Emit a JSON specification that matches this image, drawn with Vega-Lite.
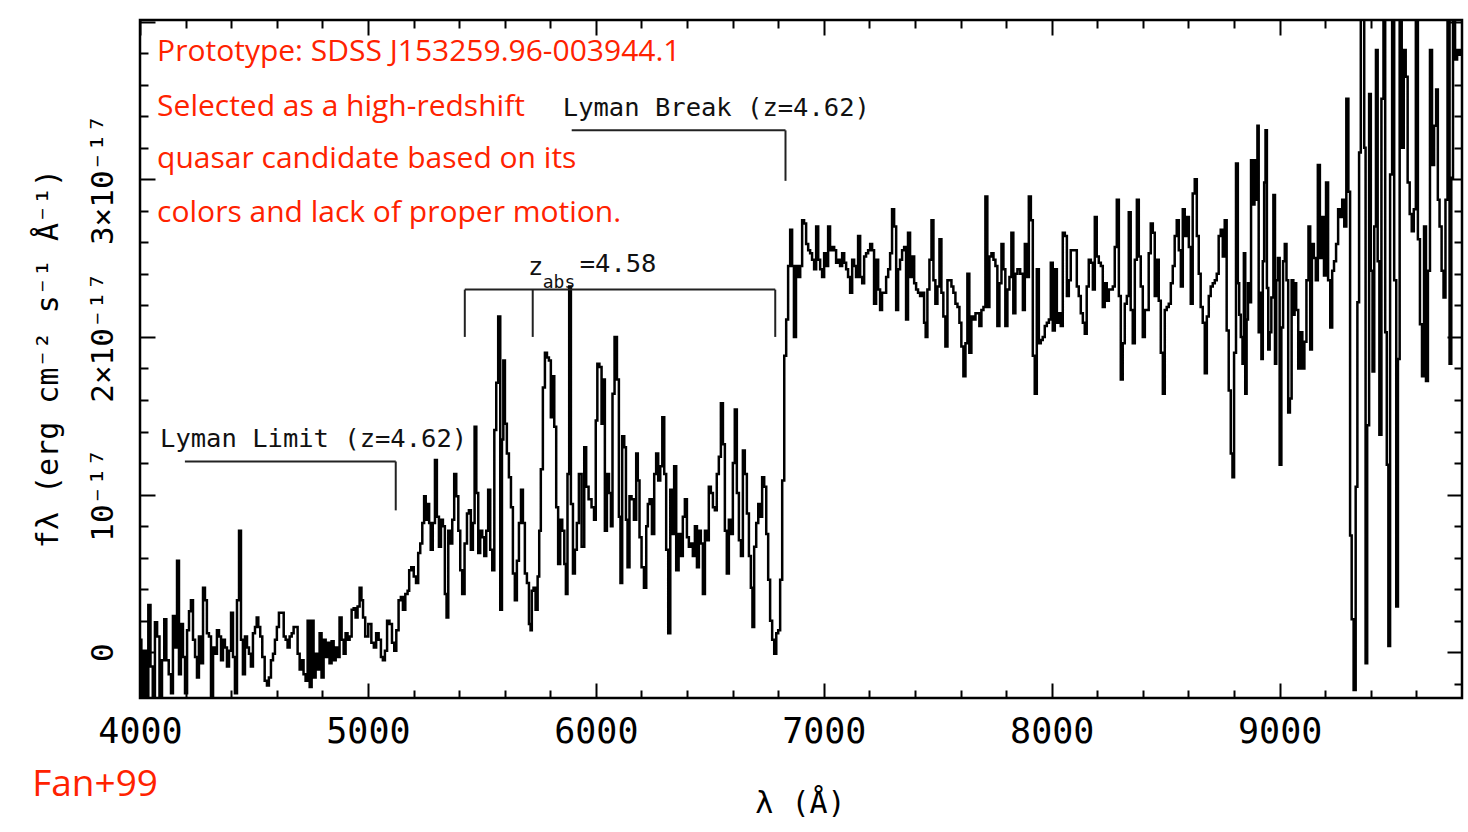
{
 "$schema": "https://vega.github.io/schema/vega-lite/v6.json",
 "width": 1322, "height": 678,
 "autosize": {"type": "none"},
 "padding": {"left": 140, "top": 20, "right": 6, "bottom": 134},
 "background": "white",
 "config": {"view": {"stroke": "black", "strokeWidth": 2.5}},
 "datasets": {
  "spec": [
{"w":4000,"f":0.08},{"w":4012,"f":-0.28},{"w":4022,"f":0.01},{"w":4032,"f":-0.30},{"w":4041,"f":0.30},{"w":4051,"f":-0.09},{"w":4061,"f":-0.30},{"w":4070,"f":0.19},{"w":4080,"f":0.10},{"w":4091,"f":-0.28},{"w":4102,"f":-0.05},{"w":4111,"f":0.21},{"w":4120,"f":-0.05},{"w":4132,"f":-0.14},{"w":4140,"f":-0.26},{"w":4149,"f":0.23},{"w":4158,"f":0.03},{"w":4167,"f":0.58},{"w":4175,"f":-0.14},{"w":4184,"f":0.18},{"w":4193,"f":-0.03},{"w":4202,"f":-0.26},{"w":4211,"f":0.14},{"w":4219,"f":0.26},{"w":4228,"f":0.33},{"w":4237,"f":0.08},{"w":4246,"f":-0.03},{"w":4254,"f":-0.16},{"w":4263,"f":0.10},{"w":4272,"f":-0.07},{"w":4281,"f":0.41},{"w":4289,"f":0.33},{"w":4298,"f":0.12},{"w":4307,"f":0.10},{"w":4316,"f":-0.28},{"w":4325,"f":0.03},{"w":4333,"f":-0.01},{"w":4342,"f":0.14},{"w":4351,"f":0.10},{"w":4360,"f":-0.05},{"w":4368,"f":0.08},{"w":4377,"f":0.03},{"w":4386,"f":-0.09},{"w":4395,"f":0.01},{"w":4404,"f":0.25},{"w":4412,"f":-0.03},{"w":4421,"f":-0.26},{"w":4430,"f":0.33},{"w":4439,"f":0.77},{"w":4447,"f":0.08},{"w":4456,"f":-0.14},{"w":4465,"f":0.10},{"w":4474,"f":0.03},{"w":4482,"f":-0.01},{"w":4491,"f":-0.09},{"w":4500,"f":0.12},{"w":4509,"f":0.16},{"w":4515,"f":0.22},{"w":4523,"f":0.16},{"w":4532,"f":0.10},{"w":4541,"f":-0.03},{"w":4553,"f":-0.18},{"w":4561,"f":-0.21},{"w":4570,"f":-0.16},{"w":4579,"f":-0.05},{"w":4588,"f":-0.01},{"w":4596,"f":0.08},{"w":4605,"f":0.16},{"w":4614,"f":0.25},{"w":4626,"f":0.25},{"w":4635,"f":0.10},{"w":4643,"f":0.08},{"w":4652,"f":0.03},{"w":4661,"f":0.10},{"w":4670,"f":0.12},{"w":4678,"f":0.16},{"w":4687,"f":0.16},{"w":4696,"f":-0.01},{"w":4705,"f":-0.11},{"w":4713,"f":-0.05},{"w":4722,"f":-0.14},{"w":4731,"f":-0.18},{"w":4740,"f":0.20},{"w":4749,"f":-0.22},{"w":4757,"f":0.20},{"w":4766,"f":-0.16},{"w":4775,"f":-0.01},{"w":4784,"f":-0.11},{"w":4792,"f":0.12},{"w":4801,"f":-0.16},{"w":4810,"f":0.08},{"w":4819,"f":-0.03},{"w":4827,"f":0.06},{"w":4836,"f":-0.07},{"w":4845,"f":0.07},{"w":4854,"f":-0.05},{"w":4863,"f":0.03},{"w":4871,"f":-0.03},{"w":4880,"f":0.22},{"w":4889,"f":0.08},{"w":4898,"f":-0.01},{"w":4906,"f":0.12},{"w":4915,"f":0.08},{"w":4924,"f":0.10},{"w":4933,"f":0.27},{"w":4942,"f":0.28},{"w":4950,"f":0.22},{"w":4959,"f":0.29},{"w":4968,"f":0.41},
{"w":4975,"f":0.33},{"w":4982,"f":0.22},{"w":4994,"f":0.10},{"w":5009,"f":0.18},{"w":5021,"f":0.06},{"w":5031,"f":0.03},{"w":5041,"f":0.12},{"w":5053,"f":0.08},{"w":5061,"f":-0.03},{"w":5070,"f":-0.05},{"w":5079,"f":0.01},{"w":5089,"f":0.20},{"w":5100,"f":0.18},{"w":5111,"f":0.06},{"w":5120,"f":0.01},{"w":5129,"f":0.14},{"w":5140,"f":0.33},{"w":5149,"f":0.35},{"w":5158,"f":0.27},{"w":5170,"f":0.37},{"w":5178,"f":0.39},{"w":5184,"f":0.52},{"w":5196,"f":0.54},{"w":5206,"f":0.48},{"w":5216,"f":0.44},{"w":5225,"f":0.63},{"w":5234,"f":0.69},{"w":5243,"f":0.82},{"w":5250,"f":0.99},{"w":5257,"f":0.84},{"w":5265,"f":0.94},{"w":5272,"f":0.82},{"w":5279,"f":0.65},{"w":5290,"f":0.82},{"w":5298,"f":1.22},{"w":5307,"f":0.86},{"w":5316,"f":0.67},{"w":5325,"f":0.84},{"w":5333,"f":0.80},{"w":5342,"f":0.37},{"w":5348,"f":0.22},{"w":5357,"f":0.77},{"w":5366,"f":0.69},{"w":5374,"f":0.84},{"w":5383,"f":1.13},{"w":5392,"f":0.99},{"w":5401,"f":0.77},{"w":5409,"f":0.52},{"w":5418,"f":0.37},{"w":5430,"f":0.69},{"w":5439,"f":0.88},{"w":5447,"f":0.90},{"w":5456,"f":0.65},{"w":5465,"f":0.82},{"w":5471,"f":1.43},{"w":5480,"f":1.01},{"w":5488,"f":0.63},{"w":5497,"f":0.77},{"w":5506,"f":0.73},{"w":5515,"f":0.61},{"w":5523,"f":0.77},{"w":5532,"f":1.03},{"w":5541,"f":0.65},{"w":5550,"f":0.52},{"w":5559,"f":1.41},{"w":5567,"f":1.71},{"w":5576,"f":2.13},{"w":5585,"f":0.27},{"w":5591,"f":1.35},{"w":5597,"f":1.85},{"w":5605,"f":1.45},{"w":5614,"f":1.26},{"w":5623,"f":1.11},{"w":5632,"f":0.92},{"w":5640,"f":0.50},{"w":5649,"f":0.33},{"w":5658,"f":0.58},{"w":5667,"f":0.82},{"w":5676,"f":1.03},{"w":5684,"f":0.82},{"w":5693,"f":0.50},{"w":5702,"f":0.44},{"w":5711,"f":0.18},{"w":5716,"f":0.14},{"w":5722,"f":0.39},{"w":5731,"f":0.41},{"w":5740,"f":0.27},{"w":5749,"f":0.48},{"w":5754,"f":0.77},{"w":5763,"f":1.16},{"w":5772,"f":1.68},{"w":5781,"f":1.90},{"w":5790,"f":1.87},{"w":5798,"f":1.85},{"w":5807,"f":1.49},{"w":5813,"f":1.75},{"w":5822,"f":1.43},{"w":5830,"f":0.92},{"w":5839,"f":0.56},{"w":5848,"f":0.84},{"w":5857,"f":0.77},{"w":5866,"f":0.56},{"w":5871,"f":0.37},{"w":5880,"f":1.13},{"w":5886,"f":2.32},{"w":5895,"f":0.94},{"w":5904,"f":0.50},{"w":5912,"f":0.65},{"w":5921,"f":0.82},
{"w":5930,"f":1.13},{"w":5945,"f":0.67},{"w":5953,"f":1.30},{"w":5962,"f":1.05},{"w":5974,"f":0.97},{"w":5988,"f":0.92},{"w":5996,"f":0.84},{"w":6003,"f":1.47},{"w":6010,"f":1.83},{"w":6021,"f":1.81},{"w":6029,"f":1.45},{"w":6035,"f":1.73},{"w":6044,"f":0.77},{"w":6053,"f":1.13},{"w":6062,"f":1.01},{"w":6070,"f":0.80},{"w":6076,"f":1.64},{"w":6088,"f":2.00},{"w":6097,"f":1.73},{"w":6105,"f":0.86},{"w":6111,"f":0.44},{"w":6120,"f":1.37},{"w":6129,"f":1.30},{"w":6135,"f":0.84},{"w":6143,"f":0.54},{"w":6152,"f":0.99},{"w":6161,"f":0.97},{"w":6173,"f":0.84},{"w":6181,"f":1.26},{"w":6187,"f":1.09},{"w":6196,"f":0.73},{"w":6205,"f":0.54},{"w":6217,"f":0.41},{"w":6225,"f":0.80},{"w":6231,"f":0.94},{"w":6240,"f":0.97},{"w":6252,"f":0.75},{"w":6260,"f":1.13},{"w":6269,"f":1.26},{"w":6278,"f":1.09},{"w":6287,"f":1.18},{"w":6296,"f":1.49},{"w":6304,"f":1.13},{"w":6313,"f":0.65},{"w":6322,"f":0.12},{"w":6331,"f":1.03},{"w":6339,"f":0.75},{"w":6348,"f":1.18},{"w":6357,"f":0.52},{"w":6369,"f":0.75},{"w":6377,"f":0.61},{"w":6386,"f":0.86},{"w":6395,"f":0.97},{"w":6404,"f":0.73},{"w":6412,"f":0.67},{"w":6421,"f":0.69},{"w":6430,"f":0.61},{"w":6439,"f":0.80},{"w":6448,"f":0.54},{"w":6456,"f":0.77},{"w":6465,"f":0.69},{"w":6474,"f":0.37},{"w":6483,"f":0.77},{"w":6491,"f":0.71},{"w":6500,"f":1.05},{"w":6509,"f":1.01},{"w":6518,"f":0.92},{"w":6526,"f":0.90},{"w":6535,"f":1.13},{"w":6544,"f":1.24},{"w":6553,"f":1.58},{"w":6562,"f":1.32},{"w":6570,"f":0.77},{"w":6579,"f":0.50},{"w":6588,"f":0.84},{"w":6597,"f":0.75},{"w":6605,"f":1.20},{"w":6614,"f":1.54},{"w":6623,"f":1.01},{"w":6632,"f":0.71},{"w":6641,"f":0.61},{"w":6649,"f":1.28},{"w":6658,"f":1.13},{"w":6667,"f":0.88},{"w":6676,"f":0.61},{"w":6684,"f":0.41},{"w":6690,"f":0.16},{"w":6699,"f":0.67},{"w":6708,"f":0.82},{"w":6717,"f":0.94},{"w":6725,"f":0.86},{"w":6734,"f":1.11},{"w":6743,"f":1.05},{"w":6752,"f":0.75},{"w":6760,"f":0.46},{"w":6769,"f":0.20},{"w":6778,"f":0.08},{"w":6787,"f":-0.01},{"w":6796,"f":0.12},{"w":6804,"f":0.14},{"w":6813,"f":0.46},{"w":6822,"f":1.09},{"w":6831,"f":1.88},{"w":6839,"f":2.11},{"w":6848,"f":2.45},{"w":6857,"f":2.68},
{"w":6865,"f":2.45},{"w":6873,"f":2.00},{"w":6883,"f":2.45},{"w":6892,"f":2.38},{"w":6901,"f":2.45},{"w":6909,"f":2.74},{"w":6918,"f":2.72},{"w":6927,"f":2.59},{"w":6936,"f":2.55},{"w":6944,"f":2.53},{"w":6953,"f":2.49},{"w":6962,"f":2.43},{"w":6971,"f":2.70},{"w":6980,"f":2.49},{"w":6988,"f":2.43},{"w":6997,"f":2.38},{"w":7006,"f":2.53},{"w":7015,"f":2.45},{"w":7023,"f":2.70},{"w":7032,"f":2.55},{"w":7041,"f":2.57},{"w":7050,"f":2.55},{"w":7058,"f":2.47},{"w":7067,"f":2.49},{"w":7076,"f":2.45},{"w":7085,"f":2.53},{"w":7094,"f":2.47},{"w":7102,"f":2.43},{"w":7111,"f":2.38},{"w":7120,"f":2.28},{"w":7129,"f":2.49},{"w":7137,"f":2.45},{"w":7146,"f":2.38},{"w":7155,"f":2.64},{"w":7164,"f":2.38},{"w":7173,"f":2.34},{"w":7181,"f":2.51},{"w":7190,"f":2.53},{"w":7199,"f":2.55},{"w":7208,"f":2.59},{"w":7216,"f":2.55},{"w":7225,"f":2.21},{"w":7234,"f":2.49},{"w":7243,"f":2.30},{"w":7251,"f":2.17},{"w":7260,"f":2.28},{"w":7269,"f":2.28},{"w":7278,"f":2.38},{"w":7287,"f":2.43},{"w":7295,"f":2.53},{"w":7304,"f":2.81},{"w":7313,"f":2.70},{"w":7322,"f":2.17},{"w":7330,"f":2.43},{"w":7339,"f":2.49},{"w":7348,"f":2.55},{"w":7357,"f":2.57},{"w":7365,"f":2.11},{"w":7374,"f":2.66},{"w":7383,"f":2.38},{"w":7392,"f":2.51},{"w":7401,"f":2.34},{"w":7409,"f":2.30},{"w":7418,"f":2.28},{"w":7427,"f":2.26},{"w":7436,"f":2.28},{"w":7444,"f":2.09},{"w":7450,"f":2.00},{"w":7459,"f":2.30},{"w":7468,"f":2.49},{"w":7477,"f":2.74},{"w":7485,"f":2.36},{"w":7494,"f":2.21},{"w":7503,"f":2.32},{"w":7512,"f":2.62},{"w":7520,"f":2.28},{"w":7529,"f":2.13},{"w":7538,"f":1.94},{"w":7547,"f":2.36},{"w":7556,"f":2.36},{"w":7564,"f":2.32},{"w":7573,"f":2.28},{"w":7582,"f":2.21},{"w":7591,"f":2.19},{"w":7599,"f":2.09},{"w":7608,"f":1.94},{"w":7617,"f":1.75},{"w":7626,"f":1.96},{"w":7634,"f":2.40},{"w":7643,"f":1.90},{"w":7652,"f":2.13},{"w":7661,"f":2.11},{"w":7670,"f":2.15},{"w":7678,"f":2.15},{"w":7687,"f":2.07},{"w":7696,"f":2.17},{"w":7705,"f":2.19},{"w":7713,"f":2.89},{"w":7722,"f":2.19},{"w":7731,"f":2.51},{"w":7740,"f":2.53},{"w":7749,"f":2.49},{"w":7757,"f":2.45},{"w":7766,"f":2.07},{"w":7775,"f":2.34},{"w":7784,"f":2.59},{"w":7792,"f":2.43},{"w":7801,"f":2.07},{"w":7810,"f":2.30},{"w":7819,"f":2.38},{"w":7827,"f":2.66},{"w":7836,"f":2.15},{"w":7845,"f":2.40},{"w":7854,"f":2.43},
{"w":7869,"f":2.40},{"w":7878,"f":2.17},{"w":7886,"f":2.59},{"w":7895,"f":2.38},{"w":7904,"f":2.89},{"w":7913,"f":2.74},{"w":7921,"f":1.88},{"w":7930,"f":1.64},{"w":7939,"f":2.43},{"w":7948,"f":1.96},{"w":7956,"f":1.98},{"w":7965,"f":2.00},{"w":7974,"f":2.07},{"w":7983,"f":2.09},{"w":7992,"f":2.11},{"w":8000,"f":2.47},{"w":8009,"f":2.04},{"w":8018,"f":2.43},{"w":8027,"f":2.09},{"w":8035,"f":2.15},{"w":8044,"f":2.07},{"w":8053,"f":2.66},{"w":8062,"f":2.64},{"w":8071,"f":2.26},{"w":8079,"f":2.36},{"w":8088,"f":2.55},{"w":8097,"f":2.55},{"w":8106,"f":2.55},{"w":8114,"f":2.32},{"w":8123,"f":2.26},{"w":8132,"f":2.15},{"w":8141,"f":2.09},{"w":8149,"f":2.02},{"w":8158,"f":2.32},{"w":8167,"f":2.49},{"w":8176,"f":2.47},{"w":8185,"f":2.30},{"w":8193,"f":2.76},{"w":8202,"f":2.51},{"w":8211,"f":2.47},{"w":8220,"f":2.45},{"w":8228,"f":2.19},{"w":8237,"f":2.34},{"w":8246,"f":2.23},{"w":8255,"f":2.30},{"w":8264,"f":2.30},{"w":8272,"f":2.32},{"w":8281,"f":2.57},{"w":8290,"f":2.87},{"w":8299,"f":2.26},{"w":8307,"f":1.73},{"w":8316,"f":1.96},{"w":8325,"f":2.21},{"w":8334,"f":2.26},{"w":8342,"f":2.79},{"w":8351,"f":2.17},{"w":8360,"f":1.96},{"w":8369,"f":2.49},{"w":8378,"f":2.87},{"w":8386,"f":2.51},{"w":8395,"f":2.32},{"w":8404,"f":2.00},{"w":8413,"f":2.17},{"w":8421,"f":2.17},{"w":8430,"f":2.53},{"w":8439,"f":2.72},{"w":8448,"f":2.66},{"w":8456,"f":2.26},{"w":8465,"f":2.49},{"w":8474,"f":2.23},{"w":8483,"f":1.90},{"w":8492,"f":1.64},{"w":8500,"f":2.17},{"w":8509,"f":2.19},{"w":8518,"f":2.21},{"w":8527,"f":2.34},{"w":8535,"f":2.45},{"w":8544,"f":2.64},{"w":8553,"f":2.74},{"w":8562,"f":2.55},{"w":8571,"f":2.32},{"w":8579,"f":2.81},{"w":8588,"f":2.64},{"w":8597,"f":2.76},{"w":8606,"f":2.57},{"w":8614,"f":2.21},{"w":8623,"f":2.91},{"w":8632,"f":3.00},{"w":8641,"f":2.64},{"w":8649,"f":2.40},{"w":8658,"f":2.19},{"w":8667,"f":2.09},{"w":8676,"f":1.77},{"w":8685,"f":2.13},{"w":8693,"f":2.26},{"w":8702,"f":2.32},{"w":8711,"f":2.34},{"w":8720,"f":2.36},{"w":8728,"f":2.40},{"w":8737,"f":2.64},{"w":8746,"f":2.68},{"w":8755,"f":2.51},{"w":8763,"f":2.74},{"w":8772,"f":2.04},{"w":8781,"f":1.66},{"w":8790,"f":1.26},{"w":8796,"f":1.11},{"w":8804,"f":1.90},{"w":8813,"f":3.10},
{"w":8820,"f":2.34},{"w":8825,"f":2.14},{"w":8834,"f":2.00},{"w":8840,"f":1.83},{"w":8846,"f":2.53},{"w":8852,"f":1.64},{"w":8858,"f":2.11},{"w":8864,"f":2.34},{"w":8870,"f":2.22},{"w":8879,"f":3.12},{"w":8885,"f":2.84},{"w":8894,"f":3.12},{"w":8900,"f":2.87},{"w":8905,"f":3.34},{"w":8911,"f":2.03},{"w":8917,"f":2.28},{"w":8923,"f":1.86},{"w":8929,"f":2.48},{"w":8935,"f":2.98},{"w":8941,"f":3.31},{"w":8947,"f":2.31},{"w":8953,"f":1.92},{"w":8959,"f":2.03},{"w":8968,"f":2.25},{"w":8977,"f":2.90},{"w":8982,"f":1.83},{"w":8988,"f":2.36},{"w":8997,"f":2.50},{"w":9003,"f":1.19},{"w":9012,"f":2.06},{"w":9018,"f":2.48},{"w":9027,"f":2.59},{"w":9033,"f":2.36},{"w":9042,"f":1.52},{"w":9048,"f":1.61},{"w":9057,"f":2.36},{"w":9063,"f":2.14},{"w":9068,"f":2.34},{"w":9077,"f":2.17},{"w":9086,"f":1.80},{"w":9095,"f":2.03},{"w":9104,"f":1.80},{"w":9113,"f":1.97},{"w":9122,"f":2.36},{"w":9131,"f":2.70},{"w":9137,"f":1.92},{"w":9146,"f":2.59},{"w":9154,"f":2.50},{"w":9163,"f":2.36},{"w":9172,"f":3.09},{"w":9181,"f":2.50},{"w":9190,"f":2.76},{"w":9199,"f":2.39},{"w":9208,"f":2.98},{"w":9217,"f":2.36},{"w":9227,"f":2.06},{"w":9234,"f":2.42},{"w":9243,"f":2.48},{"w":9252,"f":2.59},{"w":9261,"f":2.81},{"w":9270,"f":2.76},{"w":9279,"f":2.87},{"w":9288,"f":2.70},{"w":9297,"f":3.51},{"w":9306,"f":2.92},{"w":9312,"f":0.74},{"w":9320,"f":0.21},{"w":9329,"f":-0.24},{"w":9338,"f":1.05},{"w":9344,"f":2.22},{"w":9353,"f":3.17},{"w":9359,"f":4.3},{"w":9368,"f":4.3},{"w":9374,"f":3.20},{"w":9380,"f":-0.07},{"w":9388,"f":1.44},{"w":9397,"f":3.54},{"w":9403,"f":2.42},{"w":9412,"f":1.78},{"w":9418,"f":2.70},{"w":9427,"f":3.82},{"w":9433,"f":2.48},{"w":9442,"f":1.38},{"w":9451,"f":3.51},{"w":9460,"f":4.3},{"w":9466,"f":2.03},{"w":9474,"f":1.19},{"w":9480,"f":0.04},{"w":9489,"f":3.03},{"w":9498,"f":4.3},{"w":9507,"f":2.36},{"w":9516,"f":0.29},{"w":9522,"f":1.86},{"w":9531,"f":4.3},{"w":9540,"f":3.20},{"w":9549,"f":3.82},{"w":9557,"f":3.65},{"w":9566,"f":2.98},{"w":9575,"f":2.78},{"w":9584,"f":2.67},{"w":9593,"f":2.81},{"w":9602,"f":4.3},{"w":9611,"f":2.62},{"w":9620,"f":2.08},{"w":9629,"f":1.75},{"w":9638,"f":2.70},{"w":9646,"f":1.72},{"w":9655,"f":2.42},{"w":9664,"f":3.82},{"w":9673,"f":3.09},{"w":9682,"f":3.34},{"w":9691,"f":3.57},{"w":9697,"f":2.87},{"w":9706,"f":2.70},{"w":9715,"f":2.42},{"w":9723,"f":2.25},{"w":9732,"f":2.87},{"w":9741,"f":4.3},{"w":9750,"f":1.83},{"w":9756,"f":3.01},{"w":9765,"f":4.3},{"w":9774,"f":3.76},{"w":9783,"f":3.82},{"w":9792,"f":3.79},{"w":9800,"f":3.82}
  ],
  "brackets": [
   {"x1":4197,"x2":5122,"y1":1.21,"y2":1.21},
   {"x1":5122,"x2":5122,"y1":1.21,"y2":0.90},
   {"x1":5425,"x2":6787,"y1":2.30,"y2":2.30},
   {"x1":5425,"x2":5425,"y1":2.30,"y2":2.00},
   {"x1":5723,"x2":5723,"y1":2.30,"y2":2.00},
   {"x1":6787,"x2":6787,"y1":2.30,"y2":2.00},
   {"x1":5894,"x2":6832,"y1":3.31,"y2":3.31},
   {"x1":6832,"x2":6832,"y1":3.31,"y2":2.99}
  ],
  "notes": [
   {"t":"Lyman Limit (z=4.62)","x":4088,"y":1.30},
   {"t":"Lyman Break (z=4.62)","x":5855,"y":3.40},
   {"t":"z","x":5702,"y":2.39},
   {"t":"=4.58","x":5929,"y":2.41}
  ],
  "sub": [
   {"t":"abs","x":5767,"y":2.31}
  ],
  "red": [
   {"t":"Prototype: SDSS J153259.96-003944.1","x":4075,"y":3.75},
   {"t":"Selected as a high-redshift","x":4075,"y":3.40},
   {"t":"quasar candidate based on its","x":4075,"y":3.07},
   {"t":"colors and lack of proper motion.","x":4075,"y":2.73}
  ],
  "fan": [
   {"t":"Fan+99","x":3527,"y":-0.91}
  ]
 },
 "layer": [
  {
   "data": {"name": "spec"},
   "mark": {"type": "line", "interpolate": "step", "color": "black", "strokeWidth": 2.5, "clip": true},
   "encoding": {
    "x": {"field": "w", "type": "quantitative",
     "scale": {"domain": [4000, 9800], "nice": false, "zero": false},
     "axis": {"orient": "bottom",
      "values": [4000,4200,4400,4600,4800,5000,5200,5400,5600,5800,6000,6200,6400,6600,6800,7000,7200,7400,7600,7800,8000,8200,8400,8600,8800,9000,9200,9400,9600],
      "format": "d",
      "labelExpr": "datum.value % 1000 === 0 ? datum.label : ''",
      "tickSize": {"condition": {"test": "datum.value % 1000 === 0", "value": -15}, "value": -8},
      "tickWidth": 2, "tickColor": "black", "domain": false, "grid": false,
      "labelFont": "DejaVu Sans Mono", "labelFontSize": 35, "labelColor": "black",
      "labelPadding": 31, "labelFlush": false, "labelOverlap": false, "labelBound": false,
      "title": "λ (Å)", "titleFont": "DejaVu Sans Mono", "titleFontSize": 30, "titleFontWeight": "normal", "titleColor": "black",
      "titleX": 660, "titleY": 105, "titleAlign": "center", "titleBaseline": "middle", "titleAngle": 0}},
    "y": {"field": "f", "type": "quantitative",
     "scale": {"domain": [-0.29, 4.01], "nice": false, "zero": false},
     "axis": {"orient": "left",
      "values": [-0.2,0,0.2,0.4,0.6,0.8,1,1.2,1.4,1.6,1.8,2,2.2,2.4,2.6,2.8,3,3.2,3.4,3.6,3.8,4],
      "labelExpr": "datum.value === 0 ? '0' : datum.value === 1 ? '10⁻¹⁷' : datum.value === 2 ? '2×10⁻¹⁷' : datum.value === 3 ? '3×10⁻¹⁷' : ''",
      "tickSize": {"condition": {"test": "datum.value % 1 === 0", "value": -15}, "value": -8},
      "tickWidth": 2, "tickColor": "black", "domain": false, "grid": false,
      "labelFont": "DejaVu Sans Mono", "labelFontSize": 31, "labelColor": "black",
      "labelAngle": 270, "labelAlign": "center", "labelBaseline": "middle",
      "labelPadding": 52, "labelFlush": false, "labelOverlap": false, "labelBound": false,
      "title": "fλ (erg cm⁻² s⁻¹ Å⁻¹)", "titleFont": "DejaVu Sans Mono", "titleFontSize": 30, "titleFontWeight": "normal", "titleColor": "black",
      "titleX": -92, "titleY": 338, "titleAlign": "center", "titleBaseline": "middle", "titleAngle": 270}}
   }
  },
  {
   "data": {"name": "brackets"},
   "mark": {"type": "rule", "color": "#222222", "strokeWidth": 2},
   "encoding": {
    "x": {"field": "x1", "type": "quantitative",
     "axis": {"orient": "top",
      "values": [4000,4200,4400,4600,4800,5000,5200,5400,5600,5800,6000,6200,6400,6600,6800,7000,7200,7400,7600,7800,8000,8200,8400,8600,8800,9000,9200,9400,9600],
      "labels": false, "title": null, "domain": false, "grid": false,
      "tickSize": {"condition": {"test": "datum.value % 1000 === 0", "value": -15}, "value": -8},
      "tickWidth": 2, "tickColor": "black"}},
    "x2": {"field": "x2"},
    "y": {"field": "y1", "type": "quantitative",
     "axis": {"orient": "right",
      "values": [-0.2,0,0.2,0.4,0.6,0.8,1,1.2,1.4,1.6,1.8,2,2.2,2.4,2.6,2.8,3,3.2,3.4,3.6,3.8,4],
      "labels": false, "title": null, "domain": false, "grid": false,
      "tickSize": {"condition": {"test": "datum.value % 1 === 0", "value": -15}, "value": -8},
      "tickWidth": 2, "tickColor": "black"}},
    "y2": {"field": "y2"}
   }
  },
  {
   "data": {"name": "notes"},
   "mark": {"type": "text", "font": "DejaVu Sans Mono", "fontSize": 25.5, "align": "left", "baseline": "alphabetic", "color": "#111111"},
   "encoding": {
    "x": {"field": "x", "type": "quantitative", "axis": null},
    "y": {"field": "y", "type": "quantitative", "axis": null},
    "text": {"field": "t"}
   }
  },
  {
   "data": {"name": "sub"},
   "mark": {"type": "text", "font": "DejaVu Sans Mono", "fontSize": 18, "align": "left", "baseline": "alphabetic", "color": "#111111"},
   "encoding": {
    "x": {"field": "x", "type": "quantitative", "axis": null},
    "y": {"field": "y", "type": "quantitative", "axis": null},
    "text": {"field": "t"}
   }
  },
  {
   "data": {"name": "red"},
   "mark": {"type": "text", "font": "Open Sans", "fontSize": 30, "align": "left", "baseline": "alphabetic", "color": "#ff2200"},
   "encoding": {
    "x": {"field": "x", "type": "quantitative", "axis": null},
    "y": {"field": "y", "type": "quantitative", "axis": null},
    "text": {"field": "t"}
   }
  },
  {
   "data": {"name": "fan"},
   "mark": {"type": "text", "font": "Open Sans", "fontSize": 37, "align": "left", "baseline": "alphabetic", "color": "#ff2200"},
   "encoding": {
    "x": {"field": "x", "type": "quantitative", "axis": null},
    "y": {"field": "y", "type": "quantitative", "axis": null},
    "text": {"field": "t"}
   }
  }
 ],
 "resolve": {"axis": {"x": "independent", "y": "independent"}}
}
